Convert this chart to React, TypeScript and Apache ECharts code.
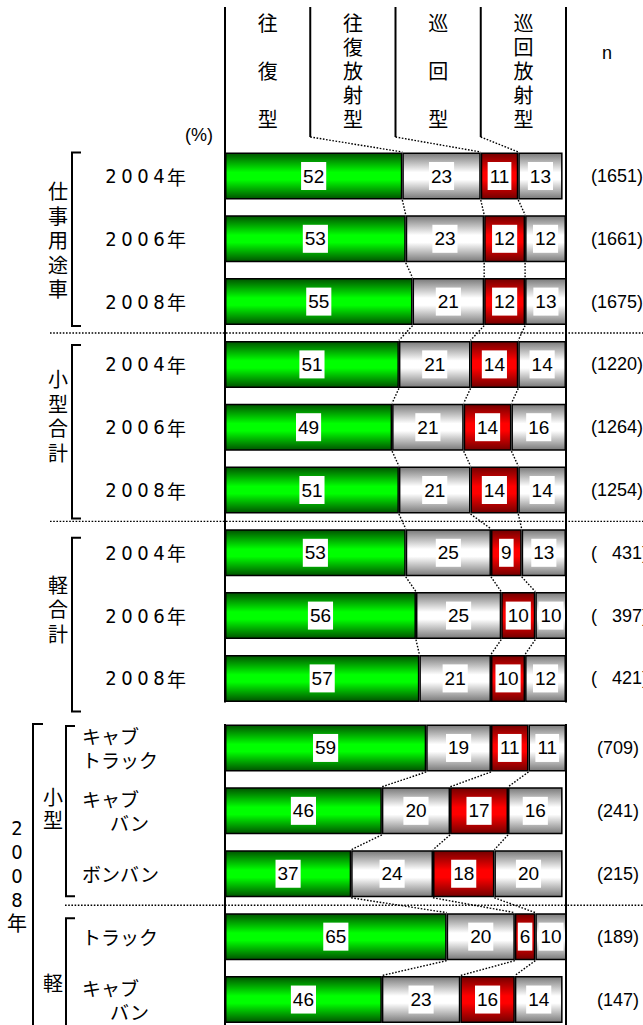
import React, { useEffect, useRef } from "react";
import * as echarts from "echarts";

// 配送形態（左から積み上げ）
const TYPE_NAMES = ["往復型", "往復放射型", "巡回型", "巡回放射型"];
const headerDividers = [25, 50, 75]; // 見出し欄の区切り（%）

// 上段：用途・車種計 × 調査年
const upperGroups = ["仕事用途車", "小型合計", "軽合計"];
const upperRows = ["2004年", "2006年", "2008年", "2004年", "2006年", "2008年", "2004年", "2006年", "2008年"];
const upperRoundTrip = [52, 53, 55, 51, 49, 51, 53, 56, 57];
const upperRoundTripRadial = [23, 23, 21, 21, 21, 21, 25, 25, 21];
const upperCircuit = [11, 12, 12, 14, 14, 14, 9, 10, 10];
const upperCircuitRadial = [13, 12, 13, 14, 16, 14, 13, 10, 12];
const upperN = [1651, 1661, 1675, 1220, 1264, 1254, 431, 397, 421];

// 下段：2008年 車型別
const lowerYear = "2008年";
const lowerGroups = ["小型", "軽"];
const lowerRows = ["キャブ\nトラック", "キャブ\nバン", "ボンバン", "トラック", "キャブ\nバン"];
const lowerRoundTrip = [59, 46, 37, 65, 46];
const lowerRoundTripRadial = [19, 20, 24, 20, 23];
const lowerCircuit = [11, 17, 18, 6, 16];
const lowerCircuitRadial = [11, 16, 20, 10, 14];
const lowerN = [709, 241, 215, 189, 147];

const CJK = "'Noto Sans CJK JP', sans-serif";
const SANS = "'Liberation Sans', Arial, sans-serif";
const NARROW = "'Liberation Sans Narrow', 'DejaVu Sans Condensed', 'Noto Sans CJK JP', sans-serif";
const BAR_W = 47;
const HALF = 24;

const vgrad = (edge: string, mid: string) =>
  new echarts.graphic.LinearGradient(0, 0, 0, 1, [
    { offset: 0, color: edge },
    { offset: 0.42, color: mid },
    { offset: 0.58, color: mid },
    { offset: 1, color: edge },
  ]);

const FILLS = [
  () => vgrad("#005400", "#00ff00"),
  () => vgrad("#7a7a7a", "#ffffff"),
  () => vgrad("#740000", "#ff0000"),
  () => vgrad("#7a7a7a", "#ffffff"),
];

const fmtN = (list: number[]) => {
  const w = Math.max(...list.map((n) => String(n).length));
  return list.map((n) => "(" + "\u00a0\u00a0\u00a0".repeat(w - String(n).length) + n + ")");
};

const yearLabel = (v: string) =>
  v.replace("年", "").split("").map((c) => `{d|${c}}`).join("") + "{k|年}";

const vehicleLabel = (v: string) =>
  v
    .split("\n")
    .map((l, i) => (i > 0 && l.length < 3 ? `{ind|${l}}` : `{k|${l}}`))
    .join("\n");

export default function App() {
  const ref = useRef<HTMLDivElement>(null);

  useEffect(() => {
    if (!ref.current) return;
    const chart = echarts.init(ref.current, undefined, { renderer: "svg" });

    const panels = [
      { values: [upperRoundTrip, upperRoundTripRadial, upperCircuit, upperCircuitRadial] },
      { values: [lowerRoundTrip, lowerRoundTripRadial, lowerCircuit, lowerCircuitRadial] },
    ];

    const series: any[] = [];
    panels.forEach((p, g) => {
      p.values.forEach((vals, k) => {
        series.push({
          type: "bar",
          name: TYPE_NAMES[k],
          stack: "panel" + g,
          xAxisIndex: g,
          yAxisIndex: g * 2,
          data: vals,
          barWidth: BAR_W,
          silent: true,
          itemStyle: { color: FILLS[k](), borderColor: "#000", borderWidth: 1.5 },
          label: {
            show: true,
            position: "inside",
            formatter: "{c}",
            fontSize: 19,
            fontFamily: SANS,
            color: "#000",
            backgroundColor: "#fff",
            padding: [5, 2, 4, 2],
          },
        });
      });
    });

    const hiddenAxis = { axisLine: { show: false }, axisTick: { show: false }, splitLine: { show: false } };

    chart.setOption({
      animation: false,
      backgroundColor: "#fff",
      grid: [
        { left: 225, width: 341, top: 144.6, height: 565.2, outerBoundsMode: "none", containLabel: false },
        { left: 225, width: 341, top: 716.5, height: 314.5, outerBoundsMode: "none", containLabel: false },
      ],
      xAxis: [
        { type: "value", gridIndex: 0, min: 0, max: 100, show: false },
        { type: "value", gridIndex: 1, min: 0, max: 100, show: false },
      ],
      yAxis: [
        {
          type: "category",
          gridIndex: 0,
          data: upperRows,
          inverse: true,
          position: "left",
          ...hiddenAxis,
          axisLabel: {
            interval: 0,
            margin: 122,
            align: "left",
            formatter: yearLabel,
            rich: {
              d: { width: 16, align: "center", fontSize: 20, fontFamily: NARROW, color: "#000" },
              k: { align: "center", fontSize: 19, fontFamily: CJK, color: "#000" },
            },
          },
        },
        {
          type: "category",
          gridIndex: 0,
          data: fmtN(upperN),
          inverse: true,
          position: "right",
          ...hiddenAxis,
          axisLabel: { interval: 0, margin: 25, align: "left", fontSize: 18, fontFamily: SANS, color: "#000" },
        },
        {
          type: "category",
          gridIndex: 1,
          data: lowerRows,
          inverse: true,
          position: "left",
          ...hiddenAxis,
          axisLabel: {
            interval: 0,
            margin: 143,
            align: "left",
            formatter: vehicleLabel,
            rich: {
              k: { fontSize: 19, fontFamily: CJK, color: "#000", lineHeight: 24 },
              ind: { fontSize: 19, fontFamily: CJK, color: "#000", lineHeight: 24, padding: [0, 0, 0, 28] },
            },
          },
        },
        {
          type: "category",
          gridIndex: 1,
          data: fmtN(lowerN),
          inverse: true,
          position: "right",
          ...hiddenAxis,
          axisLabel: { interval: 0, margin: 31, align: "left", fontSize: 18, fontFamily: SANS, color: "#000" },
        },
      ],
      series,
    });

    // Overlay: frame, header, connectors, separators, group brackets
    const toPx = (g: number, v: number, row: number) =>
      chart.convertToPixel({ xAxisIndex: g, yAxisIndex: g * 2 } as any, [v, row]) as number[];
    const xAt = (v: number) => toPx(0, v, 0)[0];
    const rowY = (g: number, i: number) => toPx(g, 0, i)[1];

    const els: any[] = [];
    const line = (x1: number, y1: number, x2: number, y2: number, dotted = false, w = 2) => ({
      type: "line",
      silent: true,
      z: 10,
      shape: { x1, y1, x2, y2 },
      style: { stroke: "#000", lineWidth: dotted ? 1.4 : w, lineDash: dotted ? [1.6, 1.6] : null },
    });
    const poly = (points: number[][]) => ({
      type: "polyline",
      silent: true,
      z: 10,
      shape: { points },
      style: { stroke: "#000", lineWidth: 2, fill: null },
    });
    const text = (x: number, y: number, t: string, style: any) => ({
      type: "text",
      silent: true,
      z: 10,
      x,
      y,
      style: { text: t, fill: "#000", align: "center", verticalAlign: "middle", ...style },
    });
    // one glyph per element, stacked vertically
    const vtext = (x: number, cy: number, t: string, step: number, style: any) => {
      const chars = t.split("");
      const y0 = cy - ((chars.length - 1) * step) / 2;
      chars.forEach((c, i) => els.push(text(x, y0 + i * step, c, style)));
    };

    const HEAD_TOP = 7;
    const HEAD_BOTTOM = 137;
    const x0 = xAt(0);
    const x100 = xAt(100);

    // frames
    const upperBottom = rowY(0, upperRows.length - 1) + HALF;
    const lowerTop = rowY(1, 0) - HALF;
    els.push(line(x0, HEAD_TOP, x0, upperBottom));
    els.push(line(x100, HEAD_TOP, x100, upperBottom));
    els.push(line(x0, lowerTop, x0, 1030));
    els.push(line(x100, lowerTop, x100, 1030));

    // cumulative boundaries
    const cums = panels.map((p) => {
      const out: number[][] = [];
      let run = p.values[0].map(() => 0);
      for (let k = 0; k < 3; k++) {
        run = run.map((s, i) => s + p.values[k][i]);
        out.push(run.slice());
      }
      return out;
    });

    // header columns
    const bounds = [0, ...headerDividers, 100];
    headerDividers.forEach((v, k) => {
      const x = xAt(v);
      els.push(line(x, HEAD_TOP, x, HEAD_BOTTOM));
      const top0 = rowY(0, 0) - HALF;
      els.push(line(x, HEAD_BOTTOM, toPx(0, cums[0][k][0], 0)[0], top0, true));
    });
    TYPE_NAMES.forEach((name, k) => {
      const cx = (xAt(bounds[k]) + xAt(bounds[k + 1])) / 2;
      vtext(cx, 70, name, name.length > 3 ? 24 : 48, { fontSize: 20, fontFamily: CJK });
    });
    els.push(text(199, 135, "(%)", { fontSize: 18, fontFamily: SANS }));
    els.push(text(607, 53, "n", { fontSize: 18, fontFamily: SANS }));

    // dotted connectors between consecutive bars
    panels.forEach((p, g) => {
      const rows = p.values[0].length;
      for (let i = 0; i < rows - 1; i++) {
        for (let k = 0; k < 3; k++) {
          const a = toPx(g, cums[g][k][i], i);
          const b = toPx(g, cums[g][k][i + 1], i + 1);
          els.push(line(a[0], a[1] + HALF, b[0], b[1] - HALF, true));
        }
      }
    });

    // group separators
    [2, 5].forEach((i) => {
      const y = (rowY(0, i) + rowY(0, i + 1)) / 2;
      els.push(line(50, y, 643, y, true));
    });
    {
      const y = (rowY(1, 2) + rowY(1, 3)) / 2;
      els.push(line(65, y, 643, y, true));
    }

    // upper group labels and brackets
    const textShift = [1, -11.5, -7];
    const bracketShift = [0.5, 4.5, 9];
    upperGroups.forEach((name, gi) => {
      const a = rowY(0, gi * 3);
      const b = rowY(0, gi * 3 + 2);
      vtext(58, (a + b) / 2 + textShift[gi], name, 24.5, { fontSize: 20, fontFamily: CJK });
      const t = a - HALF + bracketShift[gi];
      const btm = b + HALF + bracketShift[gi];
      els.push(poly([[81, t], [72, t], [72, btm], [81, btm]]));
    });

    // lower: year bracket, size-class brackets
    els.push(poly([[43, lowerTop], [33, lowerTop], [33, 1030]]));
    vtext(17, (rowY(1, 0) + rowY(1, 4)) / 2 + 2, lowerYear, 24, { fontSize: 20, fontFamily: NARROW });
    {
      const a = rowY(1, 0);
      const b = rowY(1, 2);
      vtext(53, (a + b) / 2 - 2.5, lowerGroups[0], 23, { fontSize: 20, fontFamily: CJK });
      els.push(poly([[75, a - HALF + 2], [66, a - HALF + 2], [66, b + HALF - 1.5], [75, b + HALF - 1.5]]));
    }
    {
      const a = rowY(1, 3);
      const b = rowY(1, 4);
      els.push(text(53, (a + b) / 2 + 14, lowerGroups[1], { fontSize: 20, fontFamily: CJK }));
      els.push(poly([[75, a - HALF + 5.5], [66, a - HALF + 5.5], [66, 1030]]));
    }

    chart.setOption({ graphic: { elements: els } });

    return () => chart.dispose();
  }, []);

  return (
    <div
      ref={ref}
      style={{ position: "fixed", left: 0, top: 0, width: 643, height: 1025, background: "#fff" }}
    />
  );
}
